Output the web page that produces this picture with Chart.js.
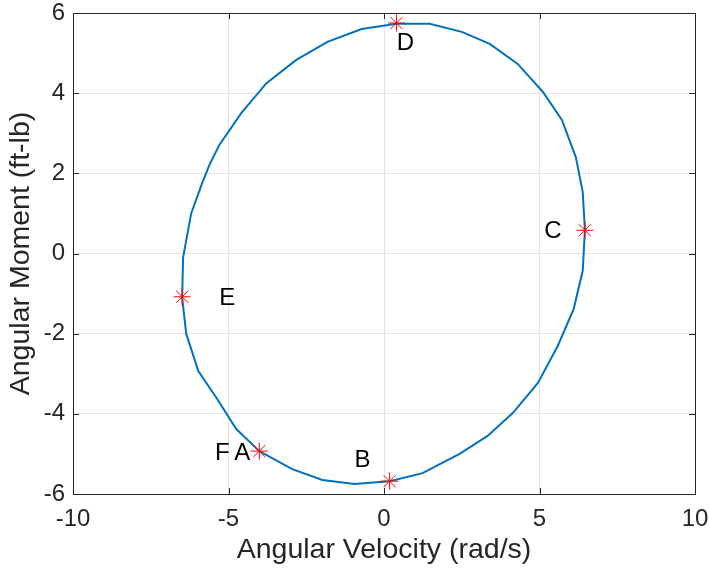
<!DOCTYPE html>
<html>
<head>
<meta charset="utf-8">
<script src="https://cdn.jsdelivr.net/npm/chart.js@4/dist/chart.umd.min.js"></script>
<style>
  body { margin: 0; background: #fff; }
  canvas { display: block; }
</style>
</head>
<body>
<canvas id="chart" width="709" height="571"></canvas>
<script>
// ellipse trace, starting and ending at point A
const curveX = [-4.01, -2.95, -1.98, -0.95, 0.18, 1.24, 2.43, 3.33, 4.14, 4.95, 5.59, 6.10, 6.39, 6.46,
  6.39, 6.17, 5.72, 5.11, 4.30, 3.40, 2.50, 1.47, 0.40, -0.72, -1.82, -2.82, -3.78, -4.59, -5.30,
  -5.62, -5.85, -6.20, -6.46, -6.49, -6.36, -5.97, -5.39, -4.75, -4.01];
const curveY = [-4.93, -5.38, -5.65, -5.75, -5.68, -5.48, -5.00, -4.55, -3.98, -3.23, -2.30, -1.38, -0.43, 0.58,
  1.53, 2.40, 3.33, 4.03, 4.73, 5.23, 5.53, 5.73, 5.73, 5.60, 5.28, 4.83, 4.25, 3.50, 2.70,
  2.20, 1.75, 1.00, -0.10, -1.10, -2.00, -2.93, -3.60, -4.38, -4.93];

// red asterisks (A, B, C, D, E)
const markerX = [-4.01, 0.18, 6.46, 0.40, -6.49];
const markerY = [-4.93, -5.68, 0.58, 5.75, -1.08];

// text labels
const labelText = ['F', 'A', 'B', 'C', 'D', 'E'];
const labelX = [-5.20, -4.56, -0.69, 5.43, 0.69, -5.04];
const labelY = [-4.98, -4.98, -5.15, 0.55, 5.25, -1.12];

const xTicks = [-10, -5, 0, 5, 10];
const yTicks = [-6, -4, -2, 0, 2, 4, 6];

const FONT = "'Liberation Sans', Arial, Helvetica, sans-serif";
const AXIS = '#262626';

const curvePts = curveX.map((x, i) => ({ x, y: curveY[i] }));
const markerPts = markerX.map((x, i) => ({ x, y: markerY[i] }));

// box around the axes with inward ticks, like MATLAB
const boxPlugin = {
  id: 'box',
  afterDraw(chart) {
    const { ctx, chartArea: a, scales } = chart;
    ctx.save();
    ctx.strokeStyle = AXIS;
    ctx.lineWidth = 1;
    ctx.beginPath();
    const len = 6;
    xTicks.forEach(v => {
      const px = Math.round(scales.x.getPixelForValue(v)) + 0.5;
      ctx.moveTo(px, a.bottom); ctx.lineTo(px, a.bottom - len);
      ctx.moveTo(px, a.top); ctx.lineTo(px, a.top + len);
    });
    yTicks.forEach(v => {
      const py = Math.round(scales.y.getPixelForValue(v)) + 0.5;
      ctx.moveTo(a.left, py); ctx.lineTo(a.left + len, py);
      ctx.moveTo(a.right, py); ctx.lineTo(a.right - len, py);
    });
    ctx.stroke();
    ctx.strokeRect(Math.round(a.left) + 0.5, Math.round(a.top) + 0.5,
      Math.round(a.right - a.left), Math.round(a.bottom - a.top));
    ctx.restore();
  }
};

const labelPlugin = {
  id: 'labels',
  afterDatasetsDraw(chart) {
    const { ctx, scales } = chart;
    ctx.save();
    ctx.fillStyle = '#000';
    ctx.font = '24px ' + FONT;
    ctx.textAlign = 'center';
    ctx.textBaseline = 'middle';
    labelText.forEach((t, i) => {
      ctx.fillText(t, scales.x.getPixelForValue(labelX[i]), scales.y.getPixelForValue(labelY[i]));
    });
    ctx.restore();
  }
};

new Chart(document.getElementById('chart'), {
  type: 'scatter',
  data: {
    datasets: [
      {
        data: markerPts,
        showLine: false,
        pointStyle: 'star',
        pointRadius: 8.5,
        borderColor: '#ff0000',
        backgroundColor: '#ff0000',
        borderWidth: 1,
      },
      {
        data: curvePts,
        showLine: true,
        tension: 0,
        borderColor: '#0072bd',
        borderWidth: 2,
        pointRadius: 0,
      },
    ]
  },
  options: {
    responsive: false,
    animation: false,
    layout: { padding: 0 },
    plugins: { legend: { display: false }, tooltip: { enabled: false } },
    scales: {
      x: {
        type: 'linear', min: -10, max: 10,
        afterBuildTicks: s => { s.ticks = xTicks.map(v => ({ value: v })); },
        afterFit: s => { s.height = 77; s.paddingRight = 14; s.paddingLeft = 0; },
        grid: { color: '#e3e3e3', drawTicks: false },
        border: { display: false },
        ticks: { color: AXIS, font: { family: FONT, size: 24 }, padding: 11, maxRotation: 0 },
        title: { display: true, text: 'Angular Velocity (rad/s)', color: AXIS, font: { family: FONT, size: 28.5 }, padding: { top: 0 } },
      },
      y: {
        type: 'linear', min: -6, max: 6,
        afterBuildTicks: s => { s.ticks = yTicks.map(v => ({ value: v })); },
        afterFit: s => { s.width = 73; s.paddingTop = 13; s.paddingBottom = 0; },
        grid: { color: '#e3e3e3', drawTicks: false },
        border: { display: false },
        ticks: { color: AXIS, font: { family: FONT, size: 24 }, padding: 8 },
        title: { display: true, text: 'Angular Moment (ft-lb)', color: AXIS, font: { family: FONT, size: 28.5 }, padding: { bottom: 0 } },
      },
    }
  },
  plugins: [boxPlugin, labelPlugin]
});
</script>
</body>
</html>
